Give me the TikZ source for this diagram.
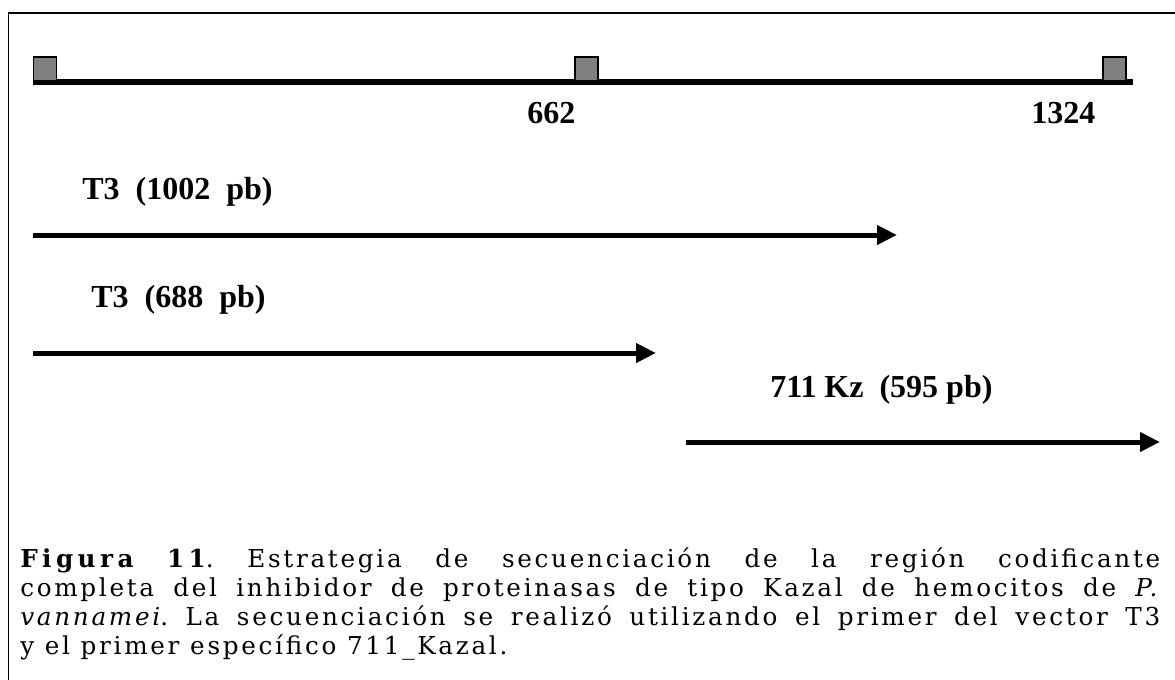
\documentclass[tikz,border=0pt]{standalone}
\usepackage{fontspec}
\setmainfont{Liberation Serif}
\newfontfamily\capfont[LetterSpace=11]{DejaVu Serif}
\usetikzlibrary{arrows.meta}
\definecolor{markergray}{HTML}{808080}
\newcommand{\figlabel}[1]{{\bfseries\addfontfeature{LetterSpace=18}#1}}
\newcommand{\capsetup}{\capfont\fontsize{18.5}{21.75}\selectfont\frenchspacing\spaceskip=8pt plus 8pt minus 1pt\relax}
\begin{document}
\begin{tikzpicture}[x=0.75pt,y=-0.75pt,
  frame/.style={line width=1.3pt},
  scaleline/.style={line width=4.5pt},
  marker/.style={draw=black, fill=markergray, line width=1.1pt, minimum width=17pt, minimum height=17.6pt, inner sep=0pt},
  lbl/.style={font=\fontsize{24}{28}\selectfont\bfseries, inner sep=0pt, anchor=base west},
  arr/.style={line width=3.75pt, -{Triangle[length=15pt,width=14pt]}},
  capstyle/.style={font=\capsetup, text width=855pt, align=justify, inner sep=0pt, anchor=base west}]
\path[use as bounding box] (0,0) rectangle (1175,679);
\clip (0,0) rectangle (1175,679);
% frame
\draw[frame] (8.5,720) -- (8.5,13.2) -- (1220,13.2);
% scale
\coordinate (s0) at (33,82);
\coordinate (s1) at (1133,82);
\draw[scaleline] (s0) -- (s1);
\node[marker] (m1) at (45,68.5) {};
\node[marker] (m2) at (586.5,68.5) {};
\node[marker] (m3) at (1114.5,68.5) {};
\node[lbl] (l662) at (527,123) {662};
\node[lbl] (l1324) at (1031,123) {1324};
% reads
\node[lbl] (t1) at (82,199) {T3~~(1002~~pb)};
\coordinate (a1s) at (33,235);
\coordinate (a1e) at (897,235);
\draw[arr] (a1s) -- (a1e);
\node[lbl] (t2) at (91,307) {T3~~(688~~pb)};
\coordinate (a2s) at (33,353);
\coordinate (a2e) at (656,353);
\draw[arr] (a2s) -- (a2e);
\node[lbl] (t3) at (770,397) {711 Kz~~(595 pb)};
\coordinate (a3s) at (686,442);
\coordinate (a3e) at (1160,442);
\draw[arr] (a3s) -- (a3e);
% caption
\node[capstyle] (cap) at (20,567) {\figlabel{Figura 11}. Estrategia de secuenciación de la región codificante\linebreak completa del inhibidor de proteinasas de tipo Kazal de hemocitos de \textit{P.}\linebreak \textit{vannamei}. La secuenciación se realizó utilizando el primer del vector T3\linebreak y el primer específico 711\_Kazal.};
\end{tikzpicture}
\end{document}
